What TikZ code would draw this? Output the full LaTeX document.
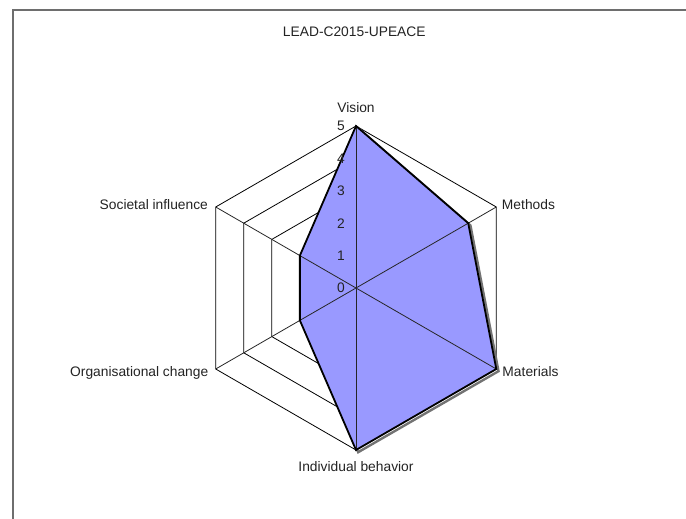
\documentclass[tikz,border=0pt]{standalone}
\usepackage{fontspec}
\setmainfont{Liberation Sans}
\usepackage{tikz}
\usetikzlibrary{positioning}
\definecolor{radarblue}{RGB}{153,153,255}
\definecolor{textgray}{RGB}{35,35,35}
\definecolor{framegray}{RGB}{110,110,110}

\begin{document}
\begin{tikzpicture}[x=1bp, y=1bp,
			gridStyle/.style={draw=black, line width=0.8bp, line join=miter},
			spokeStyle/.style={draw=black!85, line width=0.8bp},
			areaStyle/.style={fill=radarblue},
			outlineStyle/.style={draw=black, line width=1.8bp, line join=miter},
			shadowStyle/.style={draw=black!55, line width=2.4bp, line join=miter},
			labelStyle/.style={font=\fontsize{13.8bp}{16bp}\selectfont, text=textgray, inner sep=0pt},
			tickStyle/.style={labelStyle, anchor=east},
			frameStyle/.style={draw=framegray, line width=1.6bp}]
			
			\useasboundingbox (-356,-231) rectangle (330,288);
			\draw[frameStyle] (-343,-231) |- (330,278);
			
			\node[labelStyle, anchor=base] (title) at (-1.7,251.3) {LEAD-C2015-UPEACE};
			
			% axes of the radar
			\foreach \i/\ang in {1/90,2/30,3/-30,4/-90,5/210,6/150}
			\coordinate (axis\i) at (\ang:162);
			\coordinate (origin) at (0,0);
			
			% rings 1..5
			\foreach \k in {1,...,5}
			\draw[gridStyle] (90:\k*32.4) -- (30:\k*32.4) -- (-30:\k*32.4) -- (-90:\k*32.4) -- (210:\k*32.4) -- (150:\k*32.4) -- cycle;
			
			% data points
			\foreach \i/\ang/\val in {1/90/5,2/30/4,3/-30/5,4/-90/5,5/210/2,6/150/2}
			\coordinate (pt\i) at (\ang:\val*32.4);
			
			\draw[shadowStyle, transform canvas={xshift=2.2bp, yshift=-2.2bp}] (pt1) -- (pt2) -- (pt3) -- (pt4) -- (pt5) -- (pt6) -- cycle;
			\fill[areaStyle] (pt1) -- (pt2) -- (pt3) -- (pt4) -- (pt5) -- (pt6) -- cycle;
			
			\foreach \i in {1,...,6}
			\draw[spokeStyle] (origin) -- (axis\i);
			
			\draw[outlineStyle] (pt1) -- (pt2) -- (pt3) -- (pt4) -- (pt5) -- (pt6) -- cycle;
			
			% scale
			\foreach \k in {0,...,5}
			\node[tickStyle] (tick\k) at (-11,\k*32.4) {\k};
			
			%%%%%%%%%%%
			\node[labelStyle, above=12.7bp of axis1] (vision) {Vision};
			\node[labelStyle, base right=5.5bp of axis2, yshift=-2.3bp] (methods) {Methods};
			\node[labelStyle, base right=6bp of axis3, yshift=-7.7bp] (materials) {Materials};
			\node[labelStyle, below=10.9bp of axis4] (individual) {Individual behavior};
			\node[labelStyle, base left=7.2bp of axis5, yshift=-7.7bp] (organisational) {Organisational change};
			\node[labelStyle, base left=7.6bp of axis6, yshift=-2.3bp] (societal) {Societal influence};
		\end{tikzpicture}
\end{document}
